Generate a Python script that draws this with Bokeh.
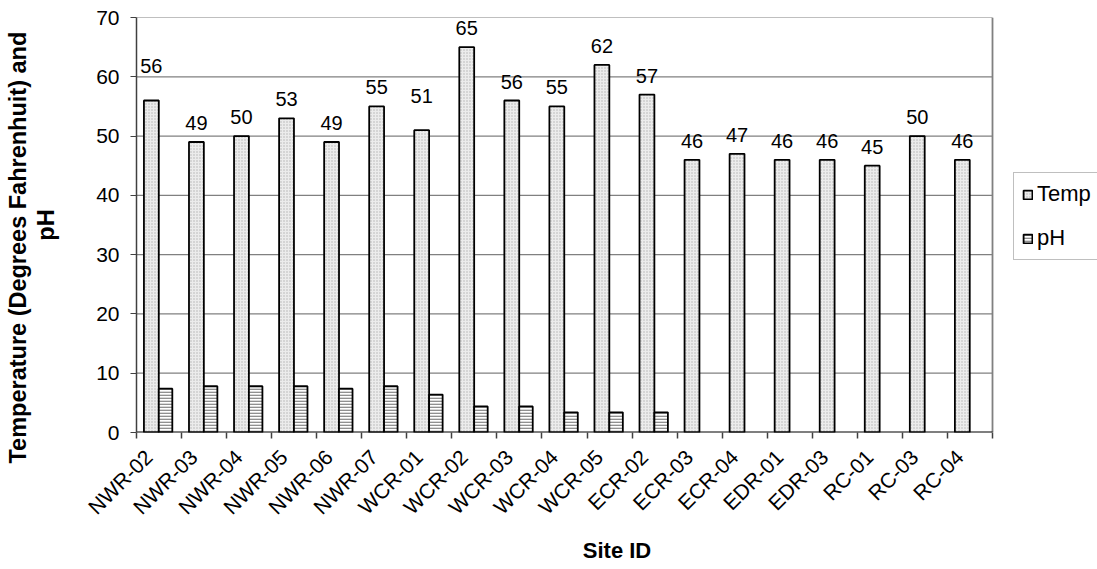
import numpy as np
from bokeh.plotting import figure
from bokeh.models import (Range1d, FixedTicker, Legend, LegendItem,
                          ColumnDataSource, Title)
from bokeh.core.properties import value
from bokeh.embed import file_html
from bokeh.resources import INLINE

# Field measurements per sampling site
sites = ["NWR-02", "NWR-03", "NWR-04", "NWR-05", "NWR-06", "NWR-07",
         "WCR-01", "WCR-02", "WCR-03", "WCR-04", "WCR-05", "ECR-02",
         "ECR-03", "ECR-04", "EDR-01", "EDR-03", "RC-01", "RC-03", "RC-04"]
temp = [56, 49, 50, 53, 49, 55, 51, 65, 56, 55, 62, 57,
        46, 47, 46, 46, 45, 50, 46]
nan = float("nan")
ph = [7.4, 7.8, 7.8, 7.8, 7.4, 7.8, 6.4, 4.4, 4.4, 3.4, 3.4, 3.4,
      nan, nan, nan, nan, nan, nan, nan]
y_ticks = [0, 10, 20, 30, 40, 50, 60, 70]

FONT = "Liberation Sans"
n = len(sites)
idx = np.arange(n)
GROUP_PX = 856 / n               # horizontal pixels per site group
x_end = n + 105 / GROUP_PX       # frame runs on to the right edge to hold the legend

# value labels sit 12px above their bars; a couple were pulled higher by hand
label_lift = {"NWR-02": 16, "WCR-01": 15}
label_dy = [-12 - label_lift.get(s, 0) for s in sites]

src = ColumnDataSource(dict(
    x_t=idx + 0.33,
    x_p=idx + 0.645,
    temp=temp,
    ph=ph,
    lbl=[str(t) for t in temp],
    dy=label_dy,
))

p = figure(width=1097, height=569,
           x_range=Range1d(0, x_end), y_range=Range1d(0, y_ticks[-1]),
           output_backend="svg", toolbar_location=None,
           min_border_left=136, min_border_right=0,
           min_border_top=17, min_border_bottom=137)

p.background_fill_color = "white"
p.border_fill_color = "white"
p.outline_line_color = None
p.xgrid.grid_line_color = None
p.ygrid.grid_line_color = None

# plot area: horizontal grid, right border and base line, limited to the site groups
p.segment(x0=[0] * (len(y_ticks) - 1), x1=[n] * (len(y_ticks) - 1),
          y0=y_ticks[1:], y1=y_ticks[1:], line_color="#808080", line_width=1.2)
p.segment(x0=[n], x1=[n], y0=[0], y1=[y_ticks[-1]],
          line_color="#808080", line_width=1.8)

r_t = p.vbar(x="x_t", top="temp", bottom=0, width=0.33, source=src,
             fill_color="#ececec", hatch_pattern="dot", hatch_color="#b0b0b0",
             hatch_scale=3, hatch_weight=1,
             line_color="black", line_width=1.8)
r_p = p.vbar(x="x_p", top="ph", bottom=0, width=0.30, source=src,
             fill_color="white", hatch_pattern="horizontal_line",
             hatch_color="#909090", hatch_scale=3, hatch_weight=1.7,
             line_color="black", line_width=1.8)

p.segment(x0=[0], x1=[n], y0=[0], y1=[0], line_color="black", line_width=1.8)

p.text(x="x_t", y="temp", text="lbl", source=src,
       text_align="center", text_baseline="bottom", y_offset="dy",
       text_font=value(FONT), text_font_size="20px", text_color="black")

# y axis
ya = p.yaxis[0]
ya.ticker = FixedTicker(ticks=y_ticks)
ya.axis_line_color = "#404040"
ya.axis_line_width = 1.5
ya.major_tick_line_color = "#404040"
ya.major_tick_out = 6
ya.major_tick_in = 0
ya.minor_tick_line_color = None
ya.major_label_standoff = 11
ya.major_label_text_font = FONT
ya.major_label_text_font_size = "21px"
ya.major_label_text_color = "black"
ya.axis_label = "pH"
ya.axis_label_text_font = FONT
ya.axis_label_text_font_style = "bold"
ya.axis_label_text_font_size = "23.5px"
ya.axis_label_text_color = "black"
ya.axis_label_standoff = 34

# first line of the y title, starting a little below the frame bottom
p.add_layout(Title(text="Temperature (Degrees Fahrenhuit) and", align="left",
                   offset=-31, standoff=0, text_font=FONT,
                   text_font_size="23.5px", text_font_style="bold",
                   text_color="black"), "left")

# x axis: site names slanted under each group, tick marks on group boundaries
label_pos = [float(i) + 0.27 for i in idx]
xa = p.xaxis[0]
xa.ticker = FixedTicker(ticks=label_pos, minor_ticks=list(range(n + 1)))
xa.major_label_overrides = {c: s for c, s in zip(label_pos, sites)}
xa.major_label_orientation = np.pi / 4
xa.axis_line_color = None
xa.major_tick_line_color = None
xa.major_tick_out = 6
xa.major_tick_in = 0
xa.minor_tick_line_color = "#404040"
xa.minor_tick_line_width = 1.5
xa.minor_tick_out = 6
xa.minor_tick_in = 0
xa.major_label_standoff = 15
xa.major_label_text_font = FONT
xa.major_label_text_font_size = "21px"
xa.major_label_text_color = "black"
xa.axis_label = "Site ID"
xa.axis_label_text_font = FONT
xa.axis_label_text_font_style = "bold"
xa.axis_label_text_font_size = "22px"
xa.axis_label_text_color = "black"
xa.axis_label_standoff = 8

legend = Legend(items=[LegendItem(label="Temp", renderers=[r_t]),
                       LegendItem(label="pH", renderers=[r_p])],
                location=(877, 172))
legend.border_line_color = "#808080"
legend.border_line_width = 1.2
legend.background_fill_color = "white"
legend.background_fill_alpha = 1
legend.padding = 8
legend.spacing = 18
legend.margin = 0
legend.glyph_width = 11
legend.glyph_height = 11
legend.label_height = 20
legend.label_standoff = 4
legend.label_text_font = FONT
legend.label_text_font_size = "22px"
legend.label_text_color = "black"
legend.label_text_baseline = "middle"
p.add_layout(legend)

open("out.html", "w").write(file_html(p, INLINE))
